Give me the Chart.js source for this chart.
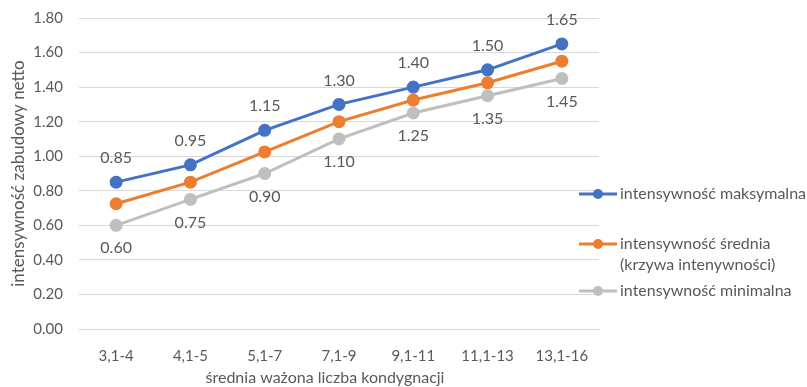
<!DOCTYPE html>
<html>
<head>
<meta charset="utf-8">
<script src="https://cdn.jsdelivr.net/npm/chart.js@4"></script>
<style>
  html, body { margin: 0; padding: 0; background: #fff; }
  #wrap { width: 807px; height: 387px; position: relative; }
</style>
</head>
<body>
<div id="wrap"><canvas id="chart"></canvas></div>
<script>
var categories = ["3,1-4", "4,1-5", "5,1-7", "7,1-9", "9,1-11", "11,1-13", "13,1-16"];
var maxValues = [0.85, 0.95, 1.15, 1.30, 1.40, 1.50, 1.65];
var avgValues = [0.725, 0.85, 1.025, 1.20, 1.325, 1.425, 1.55];
var minValues = [0.60, 0.75, 0.90, 1.10, 1.25, 1.35, 1.45];
var seriesNames = ["intensywność maksymalna", ["intensywność średnia", "(krzywa intenywności)"], "intensywność minimalna"];
var xTitle = "średnia ważona liczba kondygnacji";
var yTitle = "intensywność zabudowy netto";

var FONT = "Lato, 'Noto Sans', sans-serif";
var TEXT = "#595959";

function series(label, data, color) {
    return {
        label: label,
        data: data,
        borderColor: color,
        backgroundColor: color,
        borderWidth: 3,
        pointRadius: 5,
        pointHoverRadius: 5,
        tension: 0,
    };
}

// value labels: above for max, below for min
var valueLabels = {
    id: "valueLabels",
    afterDatasetsDraw: function (chart) {
        var ctx = chart.ctx;
        ctx.save();
        ctx.font = "16px " + FONT;
        ctx.fillStyle = TEXT;
        ctx.textAlign = "center";
        ctx.textBaseline = "middle";
        chart.getDatasetMeta(0).data.forEach(function (p, i) {
            ctx.fillText(maxValues[i].toFixed(2), p.x, p.y - 24);
        });
        chart.getDatasetMeta(2).data.forEach(function (p, i) {
            ctx.fillText(minValues[i].toFixed(2), p.x, p.y + 23);
        });
        ctx.restore();
    },
};

// legend on the right + x title, drawn by hand
var sideLegend = {
    id: "sideLegend",
    afterDraw: function (chart) {
        var ctx = chart.ctx;
        var x0 = chart.chartArea.right - 20;
        var rows = [194, 244, 291];
        ctx.save();
        ctx.font = "16px " + FONT;
        ctx.textBaseline = "middle";
        chart.data.datasets.forEach(function (ds, i) {
            var y = rows[i];
            ctx.strokeStyle = ds.borderColor;
            ctx.lineWidth = 3;
            ctx.beginPath();
            ctx.moveTo(x0, y);
            ctx.lineTo(x0 + 38, y);
            ctx.stroke();
            ctx.fillStyle = ds.borderColor;
            ctx.beginPath();
            ctx.arc(x0 + 19, y, 5, 0, Math.PI * 2);
            ctx.fill();
            ctx.fillStyle = TEXT;
            var lines = [].concat(seriesNames[i]);
            lines.forEach(function (t, k) {
                ctx.fillText(t, x0 + 41, y + k * 21);
            });
        });
        ctx.textAlign = "center";
        ctx.fillText(xTitle, 325, 378);
        ctx.restore();
    },
};

new Chart(document.getElementById("chart").getContext("2d"), {
    type: "line",
    data: {
        labels: categories,
        datasets: [
            series("intensywność maksymalna", maxValues, "#4472C4"),
            series("intensywność średnia", avgValues, "#ED7D31"),
            series("intensywność minimalna", minValues, "#BFBFBF"),
        ],
    },
    options: {
        responsive: true,
        maintainAspectRatio: false,
        animation: false,
        layout: {
            padding: { top: 0, right: 208, left: 0, bottom: 0 },
        },
        plugins: {
            legend: false,
            tooltip: { enabled: false },
        },
        scales: {
            x: {
                offset: true,
                afterFit: function (axis) { axis.height = 58; },
                grid: { display: false },
                border: { color: "#D9D9D9" },
                ticks: { color: TEXT, font: { family: FONT, size: 15 }, padding: 10, maxRotation: 0 },
            },
            y: {
                min: 0,
                max: 1.8,
                afterFit: function (axis) {
                    axis.width = 79;
                    axis.paddingTop = 18;
                    axis.paddingBottom = 0;
                },
                ticks: {
                    stepSize: 0.2,
                    color: TEXT,
                    font: { family: FONT, size: 15 },
                    padding: 16,
                    callback: function (v) { return v.toFixed(2); },
                },
                grid: { color: "#D9D9D9", drawTicks: false },
                border: { display: false },
                title: {
                    display: true,
                    text: yTitle,
                    color: TEXT,
                    font: { family: FONT, size: 17 },
                    padding: { top: 8, bottom: 0 },
                },
            },
        },
    },
    plugins: [valueLabels, sideLegend],
});
</script>
</body>
</html>
